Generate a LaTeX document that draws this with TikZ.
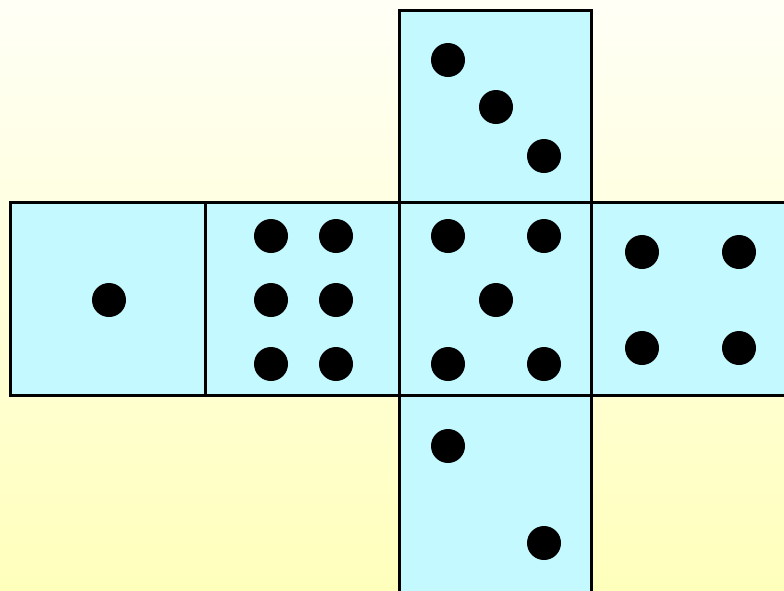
\documentclass[tikz,border=0pt]{standalone}
\usetikzlibrary{shadings}
\definecolor{facefill}{RGB}{196,250,255}
\definecolor{bgtop}{RGB}{255,255,246}
\definecolor{bgbot}{RGB}{255,255,188}
\tikzset{
  face/.style={fill=facefill,draw=black,line width=3pt},
  pip/.style={circle,fill=black,inner sep=0pt,minimum size=34pt}
}
\begin{document}
\begin{tikzpicture}[x=1pt,y=-1pt]
\useasboundingbox (0,0) rectangle (784,590);
\clip (0,0) rectangle (784,590);
\shade[top color=bgtop,bottom color=bgbot] (0,0) rectangle (784,590);
% faces
\draw[face] (10,202) rectangle (205,395);
\draw[face] (205,202) rectangle (399,395);
\draw[face] (399,202) rectangle (591,395);
\draw[face] (591,202) rectangle (788,395);
\draw[face] (399,10) rectangle (591,202);
\draw[face] (399,395) rectangle (591,594);
% face 1
\node[pip] (a1) at (109,300) {};
% face 6
\node[pip] (b1) at (271,236) {};
\node[pip] (b2) at (336,236) {};
\node[pip] (b3) at (271,300) {};
\node[pip] (b4) at (336,300) {};
\node[pip] (b5) at (271,364) {};
\node[pip] (b6) at (336,364) {};
% face 5
\node[pip] (c1) at (448,236) {};
\node[pip] (c2) at (544,236) {};
\node[pip] (c3) at (496,300) {};
\node[pip] (c4) at (448,364) {};
\node[pip] (c5) at (544,364) {};
% face 4
\node[pip] (d1) at (642,252) {};
\node[pip] (d2) at (739,252) {};
\node[pip] (d3) at (642,348) {};
\node[pip] (d4) at (739,348) {};
% face 3
\node[pip] (e1) at (448,60) {};
\node[pip] (e2) at (496,107) {};
\node[pip] (e3) at (544,156) {};
% face 2
\node[pip] (f1) at (448,446) {};
\node[pip] (f2) at (544,543) {};
\end{tikzpicture}
\end{document}
